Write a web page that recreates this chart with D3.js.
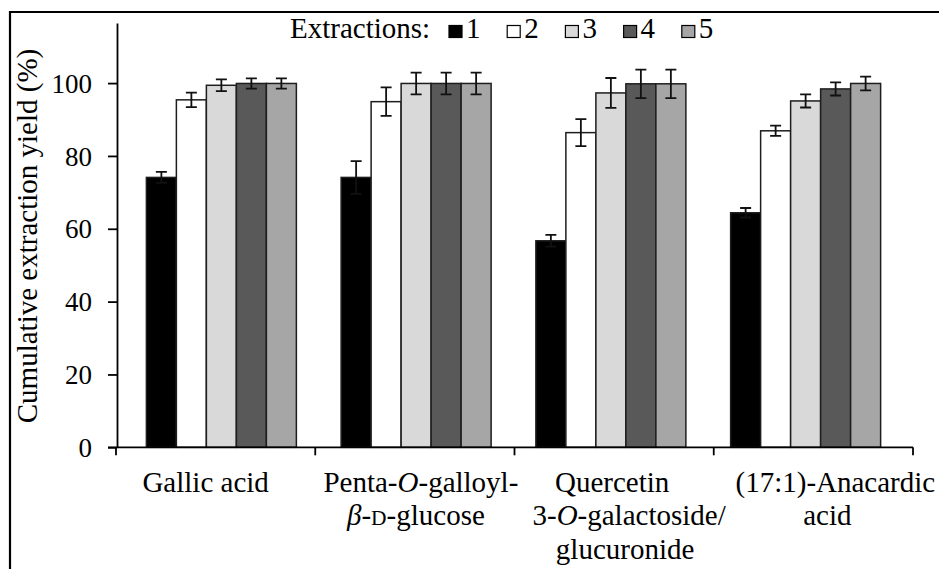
<!DOCTYPE html>
<html>
<head>
<meta charset="utf-8">
<script src="https://cdn.jsdelivr.net/npm/d3@7"></script>
<style>
  html, body { margin: 0; padding: 0; background: #fff; }
  svg { display: block; }
  text { font-family: "Liberation Serif", "Times New Roman", serif; fill: #000; }
</style>
</head>
<body>
<svg id="chart" width="939" height="569"></svg>
<script>
// ---- Data ----
const categories = ["Gallic acid", "Penta-O-galloyl-β-D-glucose", "Quercetin 3-O-galactoside/glucuronide", "(17:1)-Anacardic acid"];
const seriesNames = ["1", "2", "3", "4", "5"];
const ext1 = [74.1, 74.1, 56.7, 64.4];
const ext2 = [95.4, 94.9, 86.4, 86.9];
const ext3 = [99.4, 99.9, 97.3, 95.1];
const ext4 = [99.9, 99.9, 99.8, 98.4];
const ext5 = [99.9, 99.9, 99.8, 99.9];
const err1 = [1.5, 4.5, 1.6, 1.3];
const err2 = [2.0, 3.9, 3.7, 1.4];
const err3 = [1.6, 3.0, 4.1, 1.8];
const err4 = [1.4, 3.0, 3.9, 1.8];
const err5 = [1.4, 3.0, 3.9, 1.9];
const yTicks = [0, 20, 40, 60, 80, 100];
const seriesColors = ["#000000", "#ffffff", "#d9d9d9", "#595959", "#a6a6a6"];
// category label lines: segments [text, style] (style: n normal, i italic, sc small caps)
const labelLines = [
  [[["Gallic acid", "n"]]],
  [[["Penta-", "n"], ["O", "i"], ["-galloyl-", "n"]], [["β", "i"], ["-", "n"], ["D", "sc"], ["-glucose", "n"]]],
  [[["Quercetin", "n"]], [["3-", "n"], ["O", "i"], ["-galactoside/", "n"]], [["glucuronide", "n"]]],
  [[["(17:1)-Anacardic", "n"]], [["acid", "n"]]]
];
const labelDx = [[-10], [6, 1], [-2, 15, 11], [22, 14]];

const values = [ext1, ext2, ext3, ext4, ext5];
const errors = [err1, err2, err3, err4, err5];

// ---- Layout ----
const svg = d3.select("#chart");
const FS = 29;

const y = d3.scaleLinear().domain([0, 116.5]).range([447.3, 23]);
const xAxisBand = d3.scaleBand().domain(categories).range([116, 913]);
const xGroup = d3.scaleBand().domain(categories).range([124, 903]);
const xInner = d3.scaleBand().domain(seriesNames).range([0, 150]);

// frame
svg.append("path")
  .attr("d", "M10,569 L10,12 L939,12")
  .attr("fill", "none").attr("stroke", "#000").attr("stroke-width", 2.2);

// bars
const flat = [];
categories.forEach((c, ci) => {
  seriesNames.forEach((s, si) => {
    flat.push({ c, s, si, v: values[si][ci], e: errors[si][ci] });
  });
});
const gx = d => xGroup(d.c) + xGroup.bandwidth() / 2 - 75 + xInner(d.s);

svg.append("g").selectAll("rect").data(flat).join("rect")
  .attr("x", gx)
  .attr("y", d => y(d.v))
  .attr("width", xInner.bandwidth())
  .attr("height", d => y(0) - y(d.v))
  .attr("fill", d => seriesColors[d.si])
  .attr("stroke", "#1e1e1e")
  .attr("stroke-width", 1.5);

// error bars
const eg = svg.append("g").attr("stroke", "#111").attr("stroke-width", 1.8).attr("fill", "none");
eg.selectAll("path").data(flat).join("path")
  .attr("d", d => {
    const cx = gx(d) + xInner.bandwidth() / 2;
    const t = y(d.v + d.e), b = y(d.v - d.e);
    return `M${cx - 5.5},${t}H${cx + 5.5}M${cx},${t}V${b}M${cx - 5.5},${b}H${cx + 5.5}`;
  });

// y axis
const yAxis = d3.axisLeft(y).tickValues(yTicks).tickSize(9).tickPadding(16).tickSizeOuter(0);
const ya = svg.append("g").attr("transform", "translate(117,0)").call(yAxis);
ya.select(".domain").attr("stroke", "#000").attr("stroke-width", 1.8);
ya.selectAll(".tick line").attr("stroke", "#000").attr("stroke-width", 1.8);
ya.selectAll(".tick text").attr("font-family", "Liberation Serif, serif").attr("font-size", 27).attr("dy", "0.34em").attr("fill", "#000");

// x axis
svg.append("line")
  .attr("x1", 108).attr("x2", xAxisBand.range()[1])
  .attr("y1", y(0)).attr("y2", y(0))
  .attr("stroke", "#000").attr("stroke-width", 1.8);
const tickXs = categories.map(c => xAxisBand(c)).concat([xAxisBand.range()[1]]);
svg.append("g").selectAll("line").data(tickXs).join("line")
  .attr("x1", d => d).attr("x2", d => d)
  .attr("y1", y(0)).attr("y2", y(0) + 8)
  .attr("stroke", "#000").attr("stroke-width", 1.8);

// category labels
const lg = svg.append("g").attr("font-size", FS).attr("text-anchor", "middle");
categories.forEach((c, ci) => {
  const cx = xAxisBand(c) + xAxisBand.bandwidth() / 2;
  labelLines[ci].forEach((line, li) => {
    const t = lg.append("text")
      .attr("x", cx + labelDx[ci][li])
      .attr("y", 491.5 + li * 33.5);
    line.forEach(([txt, st]) => {
      const ts = t.append("tspan").text(txt);
      if (st === "i") ts.attr("font-style", "italic");
      if (st === "sc") ts.attr("font-size", FS * 0.74);
    });
  });
});

// y axis title
svg.append("text")
  .attr("transform", "translate(37,236) rotate(-90)")
  .attr("text-anchor", "middle")
  .attr("font-size", FS)
  .text("Cumulative extraction yield (%)");

// legend
svg.append("text").attr("x", 290).attr("y", 38).attr("font-size", FS).text("Extractions:");
const leg = svg.append("g").selectAll("g").data(seriesNames).join("g")
  .attr("transform", (d, i) => `translate(${449 + i * 58.2},0)`);
leg.append("rect")
  .attr("x", 0).attr("y", 25.5).attr("width", 13).attr("height", 12)
  .attr("fill", (d, i) => seriesColors[i])
  .attr("stroke", "#000").attr("stroke-width", 1.2);
leg.append("text").attr("x", 17).attr("y", 38).attr("font-size", FS).text(d => d);
</script>
</body>
</html>
